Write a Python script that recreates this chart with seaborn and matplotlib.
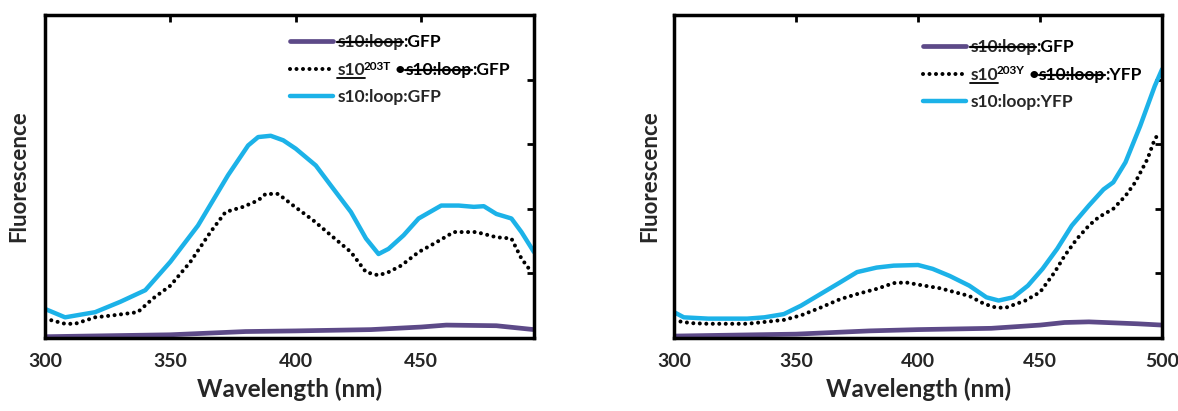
import matplotlib
matplotlib.use("Agg")
import matplotlib.pyplot as plt
import matplotlib.transforms as mtransforms
from matplotlib.lines import Line2D
import seaborn as sns

# ======== DATA: left panel (GFP) ========
gfp_off_wl = [300, 350, 380, 400, 430, 450, 460, 480, 495]
gfp_off_f = [0.02, 0.05, 0.10, 0.11, 0.13, 0.17, 0.20, 0.19, 0.13]

gfp_mut_wl = [300, 308, 312, 320, 327, 337, 343, 350, 358, 366, 372, 379, 385, 388,
              393, 399, 407, 414, 422, 428, 433, 437, 442, 449, 456, 463, 472, 480,
              486, 490, 494]
gfp_mut_f = [0.30, 0.22, 0.22, 0.32, 0.35, 0.40, 0.61, 0.81, 1.18, 1.64, 1.95, 2.03,
             2.13, 2.23, 2.23, 2.05, 1.82, 1.59, 1.33, 1.02, 0.97, 1.02, 1.12, 1.33,
             1.48, 1.64, 1.64, 1.56, 1.54, 1.23, 1.02]

gfp_on_wl = [300, 308, 320, 330, 340, 350, 361, 373, 381, 385, 390, 395, 400, 408,
             414, 422, 428, 433, 437, 443, 449, 458, 465, 471, 475, 480, 486, 490, 495]
gfp_on_f = [0.45, 0.32, 0.40, 0.56, 0.74, 1.18, 1.74, 2.52, 2.98, 3.11, 3.13, 3.06,
            2.93, 2.67, 2.36, 1.95, 1.54, 1.30, 1.38, 1.59, 1.85, 2.05, 2.05, 2.03,
            2.04, 1.92, 1.85, 1.64, 1.33]

# ======== DATA: right panel (YFP) ========
yfp_off_wl = [300, 350, 380, 400, 430, 450, 460, 470, 490, 500]
yfp_off_f = [0.03, 0.06, 0.11, 0.13, 0.15, 0.20, 0.24, 0.25, 0.22, 0.20]

yfp_mut_wl = [300, 307, 314, 330, 345, 352, 360, 368, 375, 383, 390, 395, 401, 409,
              415, 421, 427, 432, 436, 444, 450, 456, 460, 465, 470, 474, 480, 485,
              489, 494, 497, 499]
yfp_mut_f = [0.27, 0.23, 0.22, 0.22, 0.28, 0.35, 0.47, 0.60, 0.68, 0.76, 0.85, 0.86,
             0.82, 0.77, 0.71, 0.65, 0.53, 0.47, 0.47, 0.58, 0.71, 1.02, 1.27, 1.53,
             1.74, 1.87, 2.00, 2.20, 2.41, 2.77, 3.08, 3.18]

yfp_on_wl = [300, 304, 314, 330, 337, 345, 352, 360, 368, 375, 383, 390, 400, 406,
             413, 421, 428, 433, 439, 445, 451, 457, 463, 470, 476, 480, 485, 491,
             497, 500]
yfp_on_f = [0.40, 0.32, 0.30, 0.30, 0.32, 0.37, 0.50, 0.68, 0.86, 1.02, 1.09, 1.12,
            1.13, 1.07, 0.96, 0.81, 0.63, 0.58, 0.63, 0.81, 1.07, 1.38, 1.74, 2.05,
            2.30, 2.41, 2.72, 3.28, 3.90, 4.16]

gfp_xticks = [300, 350, 400, 450]
yfp_xticks = [300, 350, 400, 450, 500]

# ======== STYLE ========
sns.set_style("white")
plt.rcParams["font.family"] = ["Lato", "DejaVu Sans"]
plt.rcParams["font.weight"] = "bold"
plt.rcParams["axes.labelweight"] = "bold"

PURPLE = "#5d4a88"
CYAN = "#1cb2e8"
FS_LEG = 12.5

fig = plt.figure(figsize=(11.78, 4.11), dpi=100)
ax1 = fig.add_axes([0.0382, 0.1776, 0.4151, 0.786])
ax2 = fig.add_axes([0.5722, 0.1776, 0.4143, 0.786])


def draw_panel(ax, off, mut, on, xmax, xticks, fp, anchor, ypad):
    sns.lineplot(x=off[0], y=off[1], ax=ax, color=PURPLE, lw=3.4)
    sns.lineplot(x=mut[0], y=mut[1], ax=ax, color="black", lw=2.9,
                 linestyle=(0, (0.01, 1.6)), dash_capstyle="round")
    sns.lineplot(x=on[0], y=on[1], ax=ax, color=CYAN, lw=3.2)
    ax.set_xlim(300, xmax)
    ax.set_ylim(0, 5)
    ax.set_xticks(xticks)
    ax.set_yticks([0, 1, 2, 3, 4, 5])
    ax.tick_params(direction="in", length=5, width=2, top=True, right=True,
                   labelleft=False, labelsize=14, pad=11, color="black")
    for s in ax.spines.values():
        s.set_linewidth(2.5)
        s.set_color("black")
    ax.set_xlabel("Wavelength (nm)", fontsize=17.5, labelpad=5)
    ax.set_ylabel("Fluorescence", fontsize=16, labelpad=ypad)
    lines = ax.get_lines()[:3]
    leg = ax.legend(handles=lines, labels=["s10:loop", "s10", "s10:loop:" + fp],
                    loc="upper left", bbox_to_anchor=anchor, frameon=False,
                    handlelength=2.5, handletextpad=0.22, labelspacing=0.66,
                    borderaxespad=0, borderpad=0,
                    prop=dict(size=FS_LEG, weight="bold"))
    return leg


leg1 = draw_panel(ax1, (gfp_off_wl, gfp_off_f), (gfp_mut_wl, gfp_mut_f),
                  (gfp_on_wl, gfp_on_f), 495, gfp_xticks, "GFP", (0.501, 0.94), 11)
leg2 = draw_panel(ax2, (yfp_off_wl, yfp_off_f), (yfp_mut_wl, yfp_mut_f),
                  (yfp_on_wl, yfp_on_f), 500, yfp_xticks, "YFP", (0.51, 0.925), 10)

# ======== LEGEND TEXT DECORATION (strike / underline / superscript) ========
fig.canvas.draw()
rend = fig.canvas.get_renderer()
PX = fig.dpi / 72.0
ID = mtransforms.IdentityTransform()


def hline(x0, x1, y, lw=1.6):
    fig.add_artist(Line2D([x0, x1], [y, y], transform=ID, color="black", lw=lw))


def piece(x, base, s, size=FS_LEG, strike=False):
    t = fig.text(x, base, s, transform=ID, fontsize=size, fontweight="bold",
                 va="baseline", ha="left", color="black")
    bb = t.get_window_extent(rend)
    if strike:
        hline(bb.x0, bb.x1, base + 0.29 * size * PX)
    return bb


def base_of(t):
    bb = t.get_window_extent(rend)
    _, _, d = rend.get_text_width_height_descent("lp", t.get_fontproperties(), ismath=False)
    return bb, bb.y0 + d


for leg, fp in [(leg1, "GFP"), (leg2, "YFP")]:
    texts = leg.get_texts()
    # row 1: struck s10:loop + :GFP
    bb, base = base_of(texts[0])
    hline(bb.x0, bb.x1, base + 0.29 * FS_LEG * PX)
    piece(bb.x1, base, ":GFP")
    # row 2: underlined s10, superscript, bullet, struck s10:loop, :fp
    bb, base = base_of(texts[1])
    hline(bb.x0, bb.x1, base - 0.2 * FS_LEG * PX, lw=1.3)
    sup = "203T" if fp == "GFP" else "203Y"
    b2 = piece(bb.x1 - 1, base + 0.3 * FS_LEG * PX, sup, size=8.5)
    b3 = piece(b2.x1, base, " \u2022")
    b4 = piece(b3.x1, base, "s10:loop", strike=True)
    piece(b4.x1, base, ":" + fp)

fig.savefig("out.png", dpi=100)
plt.close(fig)
